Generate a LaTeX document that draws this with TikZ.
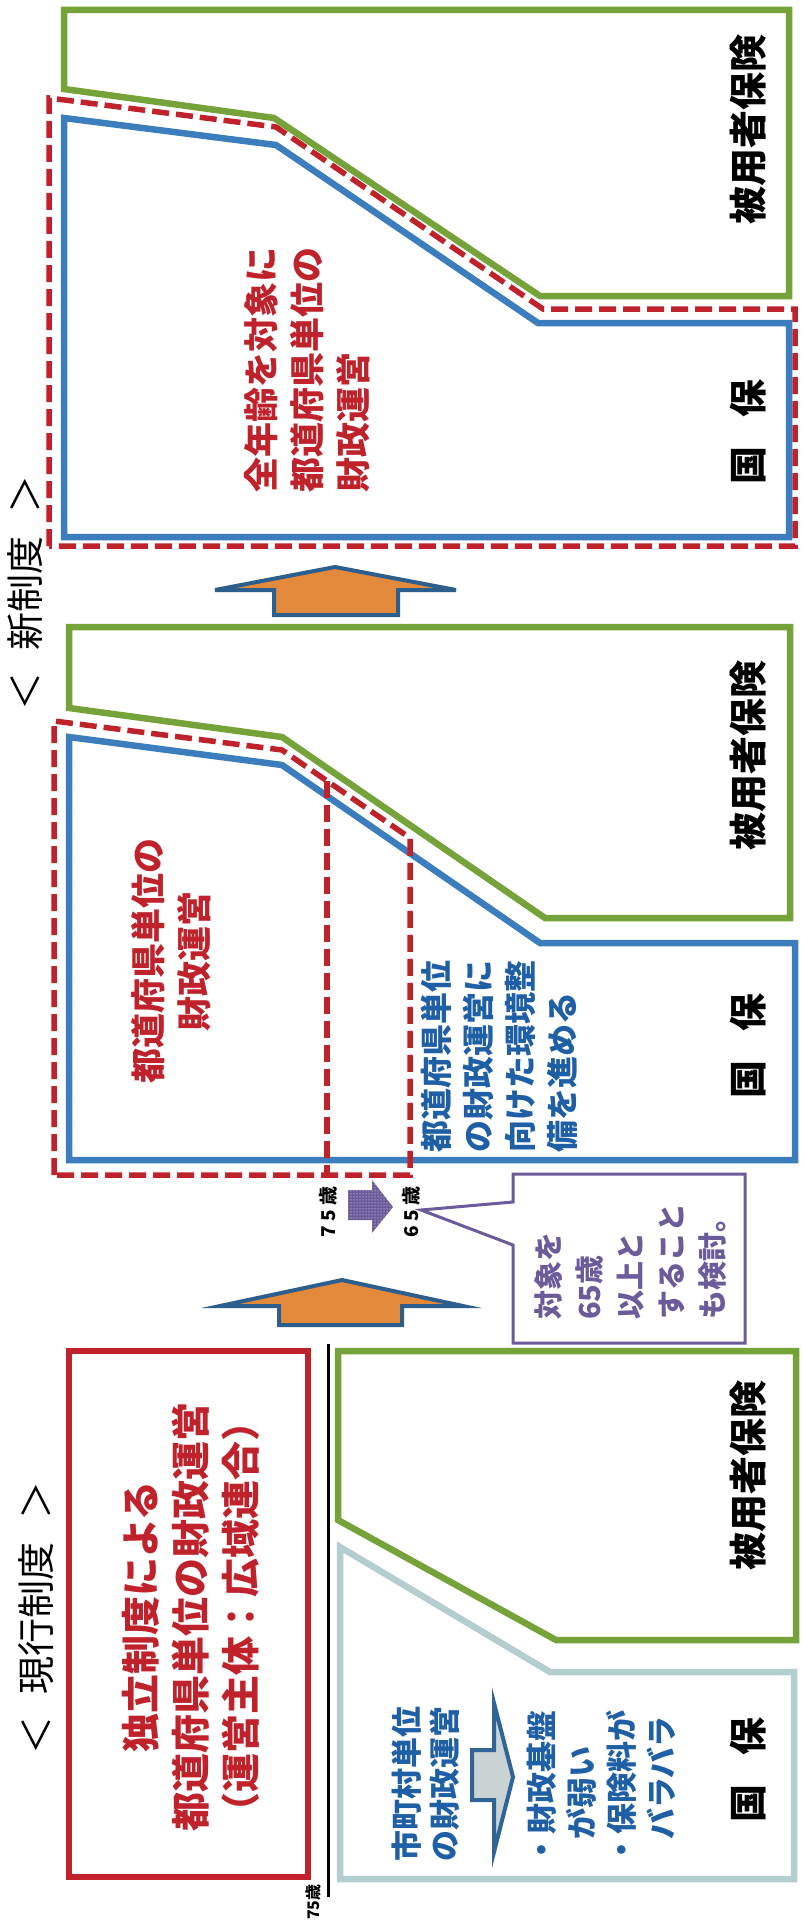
\documentclass[tikz,border=0pt]{standalone}
\usepackage{fontspec}
\setmainfont{Noto Sans CJK JP}
\usetikzlibrary{patterns}
\definecolor{kgreen}{HTML}{76A23A}
\definecolor{kblue}{HTML}{3C7DBE}
\definecolor{kred}{HTML}{C0222C}
\definecolor{kteal}{HTML}{B4CDCF}
\definecolor{korange}{HTML}{E3893B}
\definecolor{kdarkblue}{HTML}{2C5E8E}
\definecolor{ktext}{HTML}{1F5FA6}
\definecolor{kpurple}{HTML}{6C5B9B}
\tikzstyle{green line}=[draw=kgreen, line width=6.5pt]
\tikzstyle{blue line}=[draw=kblue, line width=6.5pt]
\tikzstyle{teal line}=[draw=kteal, line width=6.5pt]
\tikzstyle{red dash}=[draw=kred, line width=5.5pt, dash pattern=on 17pt off 7pt]
\tikzstyle{red box}=[draw=kred, line width=6pt]
\tikzstyle{up arrow}=[draw=kdarkblue, fill=korange, line width=4pt]
\tikzstyle{tate}=[rotate=90, inner sep=0pt]
\tikzstyle{hoken}=[tate, font=\fontsize{38}{40}\selectfont\bfseries]
\tikzstyle{heading}=[tate, font=\fontsize{38}{40}\selectfont]
\tikzstyle{red text}=[tate, text=kred, font=\fontsize{35}{46}\selectfont\bfseries]
\tikzstyle{blue text}=[tate, text=ktext, font=\fontsize{32}{42}\selectfont\bfseries]
\tikzstyle{age}=[tate, font=\fontsize{19}{20}\selectfont\bfseries]

\begin{document}
\begin{tikzpicture}[x=1pt,y=-1pt]
\useasboundingbox (0,0) rectangle (803,1926);
\fill[white] (0,0) rectangle (803,1926);

% new system
\draw[green line] (64,89) -- (64,10) -- (789,10) -- (789,296) -- (540,296) -- (274,118) -- cycle;
\draw[red dash] (49,546) -- (49,98) -- (276,127) -- (543,309) -- (795,309) -- (795,546) -- cycle;
\draw[blue line] (64,537) -- (64,118) -- (276,145) -- (538,323) -- (789,323) -- (789,537) -- cycle;
\node[red text, anchor=west, align=left] (newred) at (307,493) {全年齢を対象に\\都道府県単位の\\財政運営};
\node[heading] (newhead) at (25,593) {＜\hspace{0.6em}新制度\hspace{0.6em}＞};

\draw[up arrow] (274,615) -- (274,590) -- (215,590) -- (335,567) -- (456,590) -- (398,590) -- (398,615) -- cycle;

% transition
\draw[green line] (69,708) -- (69,627) -- (790,627) -- (790,918) -- (545,918) -- (282,737) -- cycle;
\draw[blue line] (69,1160) -- (69,737) -- (282,765) -- (540,943) -- (795,943) -- (795,1160) -- cycle;
\draw[red dash] (54,1175) -- (54,721) -- (282,750) -- (410,838) -- (410,1175) -- cycle;
\draw[red dash] (327,781) -- (327,1175);
\node[red text, align=center] (midred) at (171,961) {都道府県単位の\\財政運営};
\node[blue text, anchor=west, align=left] (midblue) at (499,1153) {都道府県単位\\の財政運営に\\向けた環境整\\備を進める};

\node[age] (age75) at (328,1212) {7 5 歳};
\node[age] (age65) at (411,1212) {6 5 歳};
\path[fill=kpurple, postaction={pattern=dots, pattern color=white}] (348,1190) -- (372,1190) -- (372,1180) -- (393,1207) -- (372,1233) -- (372,1220) -- (348,1220) -- cycle;
\draw[kpurple, line width=3pt, fill=white] (513,1202) -- (513,1174) -- (745,1174) -- (745,1343) -- (513,1343) -- (513,1245) -- (421,1210) -- cycle;
\node[tate, text=kpurple, font=\fontsize{29}{41}\selectfont\bfseries, anchor=west, align=left] (callout) at (630,1320) {対象を\\65歳\\以上と\\すること\\も検討。};

\draw[up arrow] (279,1325) -- (279,1306) -- (220,1306) -- (342,1280) -- (463,1306) -- (402,1306) -- (402,1325) -- cycle;

% current system
\draw[red box] (69,1351) rectangle (308,1877);
\node[tate, text=kred, font=\fontsize{39}{50}\selectfont\bfseries, align=center] (oldred) at (191,1617) {独立制度による\\都道府県単位の財政運営\\（運営主体：広域連合）};
\draw[black, line width=3pt] (328,1344) -- (328,1897);
\node[tate, font=\fontsize{16}{17}\selectfont\bfseries] (age75b) at (313,1902) {75歳};
\draw[green line] (338,1520) -- (338,1351) -- (796,1351) -- (796,1640) -- (556,1640) -- cycle;
\draw[teal line] (340,1547) -- (550,1672) -- (794,1672) -- (794,1879) -- (340,1879) -- cycle;
\node[tate, text=ktext, font=\fontsize{31}{38}\selectfont\bfseries, anchor=west, align=left] (shichoson) at (426,1862) {市町村単位\\の財政運営};
\draw[kblue!80!black, line width=4pt, fill=kteal!70!gray!60] (472,1750) -- (494,1750) -- (494,1703) -- (513,1777) -- (494,1852) -- (494,1800) -- (472,1800) -- cycle;
\node[tate, text=ktext, font=\fontsize{31}{40}\selectfont\bfseries, anchor=west, align=left] (weak) at (601,1866) {・財政基盤\\\hspace*{26pt}が弱い\\・保険料が\\\hspace*{26pt}バラバラ};
\node[heading] (oldhead) at (36,1618) {＜\hspace{0.6em}現行制度\hspace{0.6em}＞};

\foreach \a/\b in {130/432, 755/1046, 1475/1770} {
  \node[hoken] at (748,\a) {被用者保険};
  \node[hoken] at (748,\b) {国\hspace{0.75em}保};
}
\end{tikzpicture}
\end{document}
